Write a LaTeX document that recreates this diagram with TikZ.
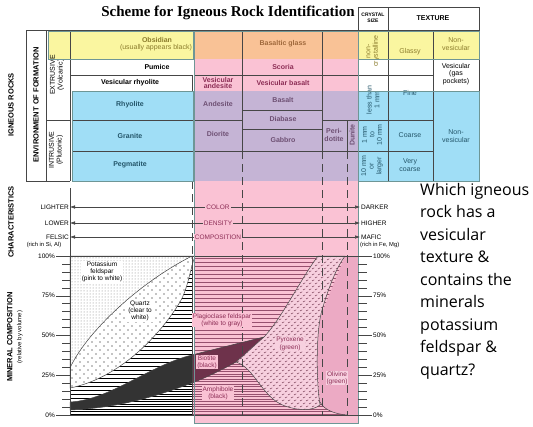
\documentclass[tikz,border=0pt]{standalone}
\usepackage{fontspec}
\setmainfont{Liberation Sans}
\newfontfamily\titlefont{Liberation Serif}
\newfontfamily\askfont{Open Sans}
\usetikzlibrary{arrows.meta,patterns,calc}
\definecolor{rockyellow}{RGB}{250,246,160}
\definecolor{rockorange}{RGB}{249,194,150}
\definecolor{rockpink}{RGB}{250,194,212}
\definecolor{rockpurple}{RGB}{197,180,213}
\definecolor{rockblue}{RGB}{160,222,246}
\definecolor{rimteal}{RGB}{110,150,150}
\definecolor{gridgray}{RGB}{70,70,70}
\definecolor{txtyellow}{RGB}{140,125,45}
\definecolor{txtorange}{RGB}{160,105,60}
\definecolor{txtpink}{RGB}{140,45,85}
\definecolor{txtblue}{RGB}{35,85,105}
\definecolor{txtpurple}{RGB}{110,80,115}
\definecolor{biodark}{RGB}{110,50,75}
\definecolor{olivpink}{RGB}{236,170,196}
\definecolor{pyropink}{RGB}{247,208,223}
\definecolor{plagline}{RGB}{150,80,110}
\pgfdeclarepatternformonly{pyrodash}{\pgfqpoint{-0.5pt}{-0.5pt}}{\pgfqpoint{6.5pt}{6.5pt}}{\pgfqpoint{6pt}{6pt}}{%
  \pgfsetlinewidth{0.5pt}%
  \pgfpathmoveto{\pgfqpoint{0pt}{1pt}}\pgfpathlineto{\pgfqpoint{2.2pt}{2.2pt}}%
  \pgfpathmoveto{\pgfqpoint{3pt}{4pt}}\pgfpathlineto{\pgfqpoint{5.2pt}{5.2pt}}%
  \pgfusepath{stroke}}
\pgfdeclarepatternformonly{quartzdots}{\pgfqpoint{-1pt}{-1pt}}{\pgfqpoint{8pt}{8pt}}{\pgfqpoint{8pt}{8pt}}{%
  \pgfpathcircle{\pgfqpoint{0pt}{0pt}}{0.6pt}%
  \pgfpathcircle{\pgfqpoint{4pt}{4pt}}{0.6pt}%
  \pgfusepath{fill}}
\tikzset{
  cellb/.style={font=\fontsize{7}{7.6}\selectfont\bfseries,align=center,inner sep=0.5pt},
  cell/.style={font=\fontsize{7}{7.6}\selectfont,align=center,inner sep=0.5pt},
  sidelab/.style={font=\fontsize{7.5}{8}\selectfont\bfseries,rotate=90,align=center,inner sep=0.5pt},
  rim/.style={draw=rimteal,line width=0.8pt},
  gridline/.style={draw=gridgray,line width=0.5pt},
  vdash/.style={draw=gridgray,line width=0.6pt,dash pattern=on 8pt off 5pt},
  minlab/.style={font=\fontsize{6.5}{7.2}\selectfont,align=center,inner sep=0.8pt},
  axlab/.style={font=\fontsize{6.5}{7}\selectfont,inner sep=1pt},
  trend/.style={{Latex[length=5pt,width=3.5pt]}-{Latex[length=5pt,width=3.5pt]},gridgray,line width=0.5pt},
}
\def\kpath{(70,256) -- (192,256) .. controls (135,285) and (85,335) .. (70,368) -- cycle}
\def\qpath{(70,368) .. controls (85,335) and (135,285) .. (192,256) -- (195,256) .. controls (190,270) and (188,288) .. (180,302) .. controls (160,335) and (120,378) .. (70,388) -- cycle}
\def\biopath{(70,402) .. controls (110,400) and (150,365) .. (192,355) .. controls (215,349) and (240,343) .. (264,337) -- (236,362) .. controls (225,368) and (210,376) .. (192,383) .. controls (160,395) and (120,408) .. (70,410) -- cycle}
\def\amphpath{(70,410) .. controls (120,408) and (160,395) .. (192,383) .. controls (210,376) and (225,368) .. (236,362) -- (300,390) -- (347,415) -- (70,415) -- cycle}
\def\olivpath{(345,256) -- (358,256) -- (358,415) -- (347,415) .. controls (335,414) and (324,410) .. (320,402) -- (315,330) -- cycle}
\def\pyropath{(318,256) .. controls (300,280) and (282,318) .. (264,337) -- (236,362) .. controls (255,368) and (262,398) .. (285,406) .. controls (300,411) and (312,411) .. (320,405) .. controls (316,380) and (316,330) .. (322,310) .. controls (328,290) and (335,270) .. (345,256) -- cycle}
\begin{document}
\begin{tikzpicture}[x=1pt,y=-1pt]
  \useasboundingbox (0,0) rectangle (533,426);
  \fill[white] (0,0) rectangle (533,426);
  \node[font=\titlefont\bfseries\fontsize{15}{16}\selectfont] (title) at (228,13) {Scheme for Igneous Rock Identification};
  % coloured bands
  \fill[rockyellow] (48,31) rectangle (193,59);
  \fill[rockyellow] (358,31) rectangle (479,59);
  \fill[rockorange] (194,31) rectangle (358,59);
  \fill[rockpink] (194,59) rectangle (358,91);
  \fill[rockpurple] (194,91) rectangle (358,181);
  \fill[rockblue] (72,91) rectangle (193,181);
  \fill[rockblue] (358,91) rectangle (479,181);
  \fill[rockpink] (194,181) rectangle (358,423);
  % table lines
  \draw[gridline] (26,30) -- (358,30) (26,30) -- (26,181) -- (70,181) (46,30) -- (46,181) (46,120) -- (70,120) (70,30) -- (70,181);
  \draw[gridline] (70,75) -- (193,75) (192,75) -- (192,91) (72,120) -- (193,120) (72,151) -- (193,151);
  \draw[gridline] (242,31) -- (242,151) (322,31) -- (322,151) (194,75) -- (358,75) (194,120) -- (242,120) (322,120) -- (358,120);
  \draw[gridline] (242,110) -- (322,110) (242,129) -- (322,129) (194,151) -- (358,151) (347,120) -- (347,151);
  \draw[gridline] (358,7) rectangle (479,30) (388,7) -- (388,181) (433,30) -- (433,181) (358,59) -- (479,59) (358,75) -- (433,75);
  \draw[gridline] (358,120) -- (433,120) (358,151) -- (433,151) (479,30) -- (479,181);
  \draw[gridline,dash pattern=on 12pt off 3pt] (358,91) -- (433,91);
  % side labels
  \node[sidelab] (igneous) at (11,105) {IGNEOUS ROCKS};
  \node[sidelab] (environ) at (36,105) {ENVIRONMENT OF FORMATION};
  \node[cell,rotate=90] (extrusive) at (57,75) {EXTRUSIVE\\(Volcanic)};
  \node[cell,rotate=90] (intrusive) at (56,150) {INTRUSIVE\\(Plutonic)};
  \node[sidelab] (charact) at (11,222) {CHARACTERISTICS};
  \node[sidelab,align=center] (mincomp) at (15,337) {MINERAL COMPOSITION\\[1pt]{\mdseries\fontsize{6}{7}\selectfont(relative by volume)}};
  % rock names
  \node[cellb,text=txtyellow] (obsidian) at (157,40) {Obsidian};
  \node[cell,text=txtyellow] (obsnote) at (156,48) {(usually appears black)};
  \node[cellb,text=txtorange] (basglass) at (283,44) {Basaltic glass};
  \node[cellb] (pumice) at (157,67) {Pumice};
  \node[cellb] (vesrhy) at (130,83) {Vesicular rhyolite};
  \node[cellb,text=txtpink] (scoria) at (283,67) {Scoria};
  \node[cellb,text=txtpink,font=\fontsize{7}{6.5}\selectfont\bfseries] (vesand) at (218,83) {Vesicular\\andesite};
  \node[cellb,text=txtpink] (vesbas) at (283,83) {Vesicular basalt};
  \node[cellb,text=txtblue] (rhyolite) at (130,105) {Rhyolite};
  \node[cellb,text=txtblue] (granite) at (130,136) {Granite};
  \node[cellb,text=txtblue] (pegmatite) at (130,165) {Pegmatite};
  \node[cellb,text=txtpurple] (andesite) at (218,104) {Andesite};
  \node[cellb,text=txtpurple] (diorite) at (218,134) {Diorite};
  \node[cellb,text=txtpurple] (basalt) at (283,100) {Basalt};
  \node[cellb,text=txtpurple] (diabase) at (283,119) {Diabase};
  \node[cellb,text=txtpurple] (gabbro) at (283,140) {Gabbro};
  \node[cellb,text=txtpurple] (peridotite) at (334,135) {Peri-\\dotite};
  \node[cellb,text=txtpurple,rotate=90] (dunite) at (352,135) {Dunite};
  % crystal size and texture
  \node[cellb,font=\fontsize{5}{5.5}\selectfont\bfseries] (crystal) at (373,18) {CRYSTAL\\SIZE};
  \node[cellb] (texture) at (433,18) {TEXTURE};
  \node[cell,rotate=90,text=txtyellow] (noncryst) at (373,51) {non-\\crystalline};
  \node[cell,rotate=90,text=txtblue] (lessthan) at (373,100) {less than\\1 mm};
  \node[cell,rotate=90,text=txtblue] (onemm) at (372,135) {1 mm\\to\\10 mm};
  \node[cell,rotate=90,text=txtblue] (tenmm) at (372,166) {10 mm\\or\\larger};
  \node[cell,text=txtyellow] (glassy) at (410,52) {Glassy};
  \node[cell,text=txtyellow] (nonves) at (456,44) {Non-\\vesicular};
  \node[cell] (vesicular) at (456,74) {Vesicular\\(gas\\pockets)};
  \node[cell,text=txtblue] (fine) at (410,93) {Fine};
  \node[cell,text=txtblue] (coarse) at (410,135) {Coarse};
  \node[cell,text=txtblue] (vcoarse) at (410,165) {Very\\coarse};
  \node[cell,text=txtblue] (nonvesb) at (456,136) {Non-\\vesicular};
  % mineral chart
  \fill[white] (70,256) rectangle (193,415);
  \foreach \yy in {258,262,...,414} {
    \draw[black,line width=0.35pt] (70,\yy) -- (193,\yy);
    \draw[plagline,line width=0.35pt] (194,\yy) -- (358,\yy);
  }
  \fill[white] \qpath;
  \fill[pattern=quartzdots,pattern color=black] \qpath;
  \fill[white] \kpath;
  \fill[pattern=dots,pattern color=gray] \kpath;
  \begin{scope}
    \clip \amphpath;
    \fill[white] (70,330) rectangle (193,415);
    \fill[rockpink] (193,330) rectangle (358,415);
    \foreach \yy in {331.5,334,...,415} {
      \draw[black,line width=0.4pt] (70,\yy) -- (193,\yy);
      \draw[plagline,line width=0.45pt] (193,\yy) -- (358,\yy);
    }
  \end{scope}
  \begin{scope}
    \clip \biopath;
    \fill[black!80] (70,330) rectangle (193,415);
    \fill[biodark] (193,330) rectangle (358,415);
  \end{scope}
  \fill[olivpink] \olivpath;
  \fill[pyropink] \pyropath;
  \fill[pattern=pyrodash,pattern color=biodark] \pyropath;
  \draw[gridline] \kpath \qpath \biopath \pyropath;
  \draw[gridline] (347,415) .. controls (335,414) and (324,410) .. (320,402);
  \draw[gridline] (70,256) -- (358,256) (70,415) -- (358,415);
  % column lines below table
  \draw[vdash] (192,181) -- (192,256) (242,151) -- (242,415) (322,151) -- (322,415) (347,151) -- (347,415);
  \draw[gridline,line width=0.7pt] (192,256) -- (192,415) (70,188) -- (70,415);
  \draw[rim] (48,31) rectangle (193,59) (358,31) rectangle (479,59) (194,31) rectangle (358,423) (72,91) rectangle (193,181) (358,91) rectangle (479,181);
  % scale
  \foreach \p in {0,5,...,100}
    \draw[gridline] (62,{415-1.59*\p}) -- (70,{415-1.59*\p}) (358,{415-1.59*\p}) -- (367,{415-1.59*\p});
  \foreach \p in {0,25,50,75,100} {
    \draw[gridline] (56,{415-1.59*\p}) -- (70,{415-1.59*\p}) (358,{415-1.59*\p}) -- (372,{415-1.59*\p});
    \node[axlab,anchor=east] (left\p) at (56,{415-1.59*\p}) {\p\%};
    \node[axlab,anchor=west] (right\p) at (372,{415-1.59*\p}) {\p\%};
  }
  % trends
  \node[axlab,anchor=east] (lighter) at (70,207) {LIGHTER};
  \node[axlab,anchor=east] (lower) at (70,223) {LOWER};
  \node[axlab,anchor=east] (felsic) at (70,237) {FELSIC};
  \node[axlab,anchor=north,font=\fontsize{5.8}{6}\selectfont] (felsicnote) at (44,241) {(rich in Si, Al)};
  \node[axlab,anchor=west] (darker) at (360,207) {DARKER};
  \node[axlab,anchor=west] (higher) at (360,223) {HIGHER};
  \node[axlab,anchor=west] (mafic) at (360,237) {MAFIC};
  \node[axlab,anchor=north west,font=\fontsize{5.8}{6}\selectfont] (maficnote) at (359,241) {(rich in Fe, Mg)};
  \draw[trend] (lighter.east) -- (darker.west);
  \draw[trend] (lower.east) -- (higher.west);
  \draw[trend] (felsic.east) -- (mafic.west);
  \node[axlab,fill=rockpink,text=txtpink] (color) at (218,207) {COLOR};
  \node[axlab,fill=rockpink,text=txtpink] (density) at (218,223) {DENSITY};
  \node[axlab,fill=rockpink,text=txtpink] (composition) at (218,237) {COMPOSITION};
  % minerals
  \node[minlab,fill=white] (kspar) at (102,272) {Potassium\\feldspar\\(pink to white)};
  \node[minlab,fill=white] (quartz) at (140,311) {Quartz\\(clear to\\white)};
  \node[minlab,fill=rockpink,text=txtpink] (plag) at (222,320) {Plagioclase feldspar\\(white to gray)};
  \node[minlab,fill=rockpink,text=txtpink] (biotite) at (207,362) {Biotite\\(black)};
  \node[minlab,fill=rockpink,text=txtpink] (amphibole) at (218,393) {Amphibole\\(black)};
  \node[minlab,fill=pyropink,text=txtpink] (pyroxene) at (290,344) {Pyroxene\\(green)};
  \node[minlab,fill=pyropink,text=txtpink] (olivine) at (337,378) {Olivine\\(green)};
  % question
  \node[anchor=north west,align=left,inner sep=0pt,font=\askfont\fontsize{16}{22.5}\selectfont] (ask) at (420,183) {Which igneous\\rock has a\\vesicular\\texture \&\\contains the\\minerals\\potassium\\feldspar \&\\quartz?};
\end{tikzpicture}
\end{document}
